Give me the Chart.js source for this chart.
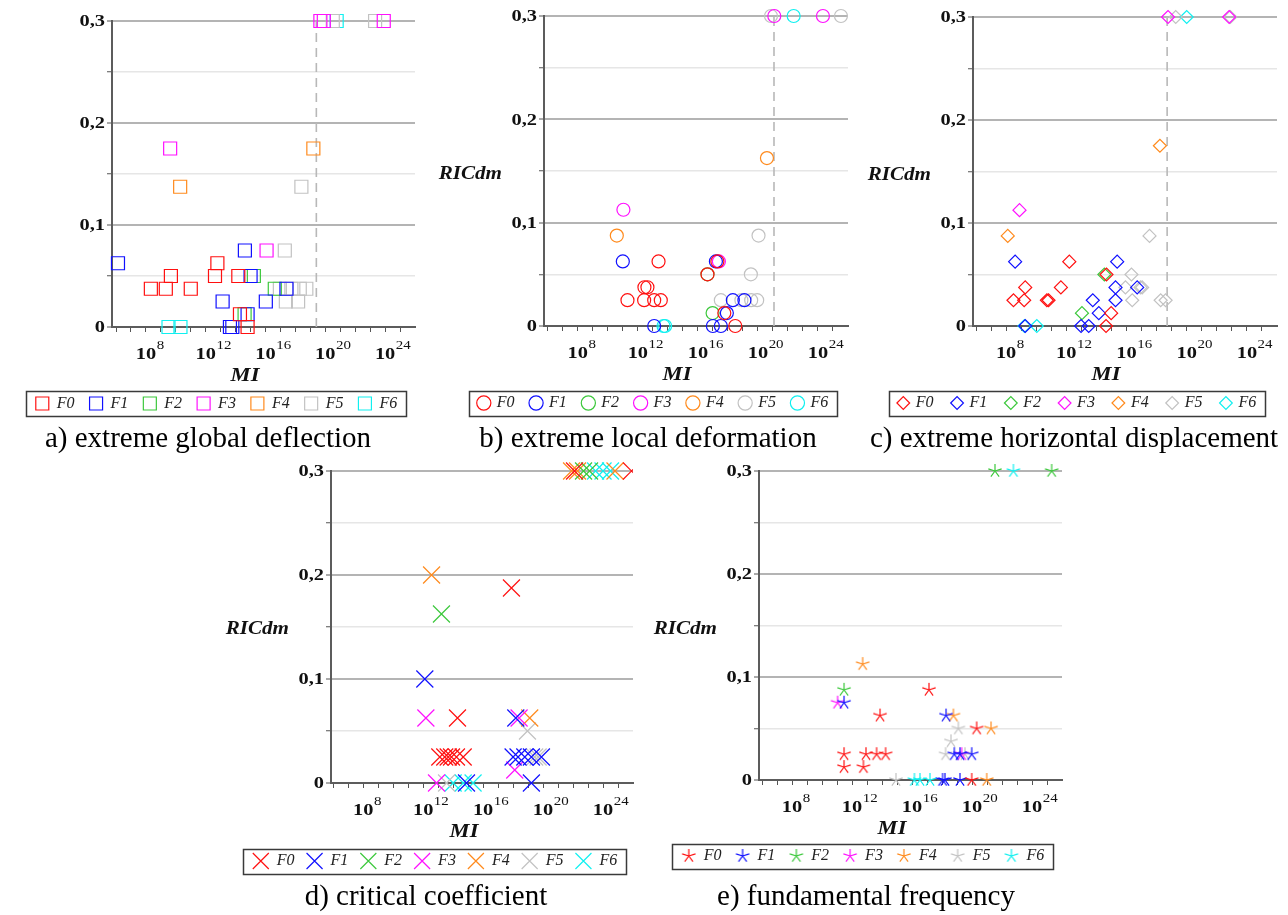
<!DOCTYPE html>
<html>
<head>
<meta charset="utf-8">
<title>RICdm versus MI</title>
<script src="https://cdn.jsdelivr.net/npm/chart.js@4/dist/chart.umd.min.js"></script>
<style>
  html, body { margin: 0; padding: 0; background: #fff; }
  body { position: relative; width: 1288px; height: 915px; overflow: hidden; }
  canvas { position: absolute; }
  .cap {
    position: absolute; width: 600px; text-align: center; white-space: nowrap;
    font: 29px/29px "Liberation Serif", "Times New Roman", serif; color: #000;
  }
</style>
</head>
<body>
<canvas id="chartA"></canvas>
<canvas id="chartB"></canvas>
<canvas id="chartC"></canvas>
<canvas id="chartD"></canvas>
<canvas id="chartE"></canvas>
<div class="cap" style="left:-92px;top:423px">a) extreme global deflection</div>
<div class="cap" style="left:348px;top:423px">b) extreme local deformation</div>
<div class="cap" style="left:774px;top:423px">c) extreme horizontal displacement</div>
<div class="cap" style="left:126px;top:881px">d) critical coefficient</div>
<div class="cap" style="left:566px;top:881px">e) fundamental frequency</div>

<script>
// Series names and tick labels
const SERIES = ['F0', 'F1', 'F2', 'F3', 'F4', 'F5', 'F6'];
const X_DECADES = [6, 7, 8, 9, 10, 11, 12, 13, 14, 15, 16, 17, 18, 19, 20, 21, 22, 23, 24, 25];
const X_LABEL_EXPS = [8, 12, 16, 20, 24];
const Y_GRID = [0, 0.05, 0.1, 0.15, 0.2, 0.25, 0.3];
const Y_TICK_VALUES = [0, 0.1, 0.2, 0.3];
const Y_TICK_TEXT = ['0', '0,1', '0,2', '0,3'];

// Points are [log10(MI), RICdm]

// a) extreme global deflection
const deflF0 = [[8.33,0.0375],[9.33,0.0375],[11.0,0.0375],[9.67,0.05],[12.62,0.05],[14.18,0.05],[12.78,0.0625],[14.29,0.0125],[14.8,0]];
const deflF1 = [[6.13,0.0625],[14.62,0.075],[15.0,0.05],[17.4,0.0375],[13.13,0.025],[16.02,0.025],[14.8,0.0125],[13.62,0],[13.78,0]];
const deflF2 = [[15.22,0.05],[16.62,0.0375],[14.6,0.0125]];
const deflF3 = [[9.62,0.175],[16.07,0.075],[19.67,0.3],[19.9,0.3],[23.91,0.3]];
const deflF4 = [[10.29,0.1375],[19.2,0.175]];
const deflF5 = [[18.4,0.1375],[17.29,0.075],[16.96,0.0375],[17.73,0.0375],[18.29,0.0375],[18.73,0.0375],[17.36,0.025],[18.18,0.025],[20.5,0.3],[23.33,0.3]];
const deflF6 = [[9.51,0],[10.31,0],[20.76,0.3]];
const deflLimit = 19.4;

// b) extreme local deformation
const locF0 = [[13.38,0.0625],[17.3,0.0625],[16.64,0.05],[12.44,0.0375],[12.64,0.0375],[11.31,0.025],[12.42,0.025],[13.09,0.025],[13.53,0.025],[17.76,0.0125],[18.49,0]];
const locF1 = [[11.0,0.0625],[17.2,0.0625],[18.33,0.025],[19.1,0.025],[17.93,0.0125],[13.09,0],[17.0,0],[17.53,0]];
const locF2 = [[16.64,0.05],[16.98,0.0125]];
const locF3 = [[11.04,0.1125],[17.4,0.0625],[21.09,0.3],[24.33,0.3]];
const locF4 = [[10.6,0.0875],[20.6,0.1625]];
const locF5 = [[20.04,0.0875],[19.53,0.05],[17.53,0.025],[18.9,0.025],[19.55,0.025],[19.95,0.025],[20.87,0.3],[25.53,0.3]];
const locF6 = [[13.71,0],[13.82,0],[22.38,0.3]];
const locLimit = 21.07;

// c) extreme horizontal displacement
const horF0 = [[12.2,0.0625],[14.67,0.05],[9.27,0.0375],[11.64,0.0375],[8.49,0.025],[9.2,0.025],[10.71,0.025],[10.82,0.025],[14.98,0.0125],[14.64,0]];
const horF1 = [[8.6,0.0625],[15.38,0.0625],[15.27,0.0375],[16.71,0.0375],[13.76,0.025],[15.27,0.025],[14.16,0.0125],[9.27,0],[12.98,0],[13.49,0]];
const horF2 = [[14.53,0.05],[13.04,0.0125]];
const horF3 = [[8.89,0.1125],[18.76,0.3],[22.82,0.3]];
const horF4 = [[8.11,0.0875],[18.22,0.175]];
const horF5 = [[17.53,0.0875],[16.33,0.05],[15.93,0.0375],[16.93,0.0375],[17.04,0.0375],[16.38,0.025],[18.27,0.025],[18.6,0.025],[19.27,0.3],[22.9,0.3]];
const horF6 = [[9.22,0],[10.04,0],[20.0,0.3]];
const horLimit = 18.7;

// d) critical coefficient
const critF0 = [[17.89,0.1875],[14.29,0.0625],[13.11,0.025],[13.44,0.025],[13.67,0.025],[13.89,0.025],[14.22,0.025],[14.67,0.025],[22.1,0.3],[25.9,0.3]];
const critF1 = [[12.11,0.1],[18.18,0.0625],[18.0,0.025],[18.33,0.025],[18.78,0.025],[19.22,0.025],[19.89,0.025],[14.89,0],[19.22,0]];
const critF2 = [[13.22,0.1625],[22.7,0.3],[23.1,0.3]];
const critF3 = [[12.18,0.0625],[18.4,0.0625],[18.11,0.0125],[12.89,0]];
const critF4 = [[12.56,0.2],[19.11,0.0625],[21.9,0.3],[22.3,0.3],[24.8,0.3]];
const critF5 = [[18.96,0.05],[19.44,0.025],[19.67,0.025],[13.56,0]];
const critF6 = [[14.0,0],[14.67,0],[15.33,0],[23.5,0.3],[24.0,0.3],[24.5,0.3]];

// e) fundamental frequency
const freqF0 = [[17.13,0.0875],[13.87,0.0625],[20.31,0.05],[11.47,0.025],[12.93,0.025],[13.64,0.025],[14.24,0.025],[11.47,0.0125],[12.76,0.0125],[19.98,0]];
const freqF1 = [[11.47,0.075],[18.27,0.0625],[18.82,0.025],[19.2,0.025],[19.98,0.025],[18.04,0],[18.2,0],[19.2,0]];
const freqF2 = [[11.47,0.0875],[21.53,0.3],[25.31,0.3]];
const freqF3 = [[11.04,0.075],[19.31,0.025]];
const freqF4 = [[12.71,0.1125],[18.76,0.0625],[21.27,0.05],[20.98,0]];
const freqF5 = [[19.09,0.05],[18.6,0.0375],[18.24,0.025],[19.53,0.025],[14.93,0]];
const freqF6 = [[16.16,0],[16.53,0],[17.2,0],[22.76,0.3]];

// Marker colours, one per series
const COLORS = ['#ff1010', '#1010ff', '#3cc83c', '#ff10ff', '#ff8a1c', '#c2c2c2', '#10f0f0'];

// Five-armed asterisk marker drawn onto a small canvas
function asteriskMarker(color) {
  const c = document.createElement('canvas');
  c.width = 16; c.height = 16;
  const g = c.getContext('2d');
  g.strokeStyle = color; g.lineWidth = 1.2;
  g.beginPath();
  for (let k = 0; k < 5; k++) {
    const a = -Math.PI / 2 + k * 2 * Math.PI / 5;
    g.moveTo(8, 8);
    g.lineTo(8 + 7 * Math.cos(a), 8 + 7 * Math.sin(a));
  }
  g.stroke();
  return c;
}

// Draw text with a horizontal stretch
function stretchedText(ctx, text, x, y, font, align, baseline, sx) {
  ctx.save();
  ctx.font = font;
  ctx.textAlign = align;
  ctx.textBaseline = baseline;
  ctx.fillStyle = '#111';
  ctx.translate(x, y);
  ctx.scale(sx, 1);
  ctx.fillText(text, 0, 0);
  ctx.restore();
}

const SERIF = '"Liberation Serif", "Times New Roman", serif';

function axisTextPlugin(showYTitle) {
  return {
    id: 'axisText',
    afterDraw(chart) {
      const ctx = chart.ctx;
      const area = chart.chartArea;
      const xs = chart.scales.x, ys = chart.scales.y;
      // y tick labels
      Y_TICK_VALUES.forEach((v, i) => {
        stretchedText(ctx, Y_TICK_TEXT[i], area.left - 7, ys.getPixelForValue(v) + 1,
          'bold 17px ' + SERIF, 'right', 'middle', 1.2);
      });
      // x tick labels: 10 with a raised exponent
      X_LABEL_EXPS.forEach(e => {
        const x = xs.getPixelForValue(Math.pow(10, e));
        ctx.save();
        ctx.font = 'bold 17px ' + SERIF;
        const w = ctx.measureText('10').width * 1.2;
        ctx.restore();
        stretchedText(ctx, '10', x, area.bottom + 31.5, 'bold 17px ' + SERIF, 'center', 'alphabetic', 1.2);
        stretchedText(ctx, String(e), x + w / 2 + 0.5, area.bottom + 22, '13px ' + SERIF, 'left', 'alphabetic', 1.15);
      });
      // axis titles
      stretchedText(ctx, 'MI', area.left + 133, area.bottom + 54, 'bold italic 18px ' + SERIF, 'center', 'alphabetic', 1.25);
      if (showYTitle) {
        stretchedText(ctx, 'RICdm', area.left - 42, area.top + 163, 'bold italic 18px ' + SERIF, 'right', 'alphabetic', 1.17);
      }
    }
  };
}

const legendFramePlugin = {
  id: 'legendFrame',
  afterDraw(chart) {
    const hb = chart.legend && chart.legend.legendHitBoxes;
    if (!hb || !hb.length) return;
    const first = hb[0], last = hb[hb.length - 1];
    const x1 = first.left - 10;
    const x2 = last.left + last.width + 9;
    const cy = first.top + first.height / 2;
    const ctx = chart.ctx;
    ctx.save();
    ctx.strokeStyle = '#3a3a3a';
    ctx.lineWidth = 1.5;
    ctx.strokeRect(Math.round(x1) + 0.5, Math.round(cy - 12.5) + 0.5, Math.round(x2 - x1), 25);
    ctx.restore();
  }
};

function isMajor(v) {
  return Math.abs(v * 10 - Math.round(v * 10)) < 1e-9;
}

function buildPanel(id, g) {
  const cv = document.getElementById(id);
  cv.width = g.w; cv.height = g.h;
  cv.style.left = g.x0 + 'px'; cv.style.top = g.y0 + 'px';
  cv.style.width = g.w + 'px'; cv.style.height = g.h + 'px';

  const padL = 2 * g.legendX - g.right - g.x0;
  const padR = g.x0 + g.w - g.right;
  const padT = g.top - g.y0;
  const yWidth = g.left - (g.x0 + padL);
  const xHeight = g.legendY - 8 - g.pad - g.bottom;
  const legendH = 16 + g.pad + 10;
  const padB = g.y0 + g.h - (g.bottom + xHeight + legendH);

  const datasets = g.series.map((pts, i) => ({
    label: SERIES[i],
    data: pts.map(p => ({ x: Math.pow(10, p[0]), y: p[1] })),
    pointStyle: g.marker === 'asterisk' ? asteriskMarker(COLORS[i]) : g.marker,
    pointRadius: g.radius,
    pointHoverRadius: g.radius,
    borderColor: COLORS[i],
    backgroundColor: 'rgba(0,0,0,0)',
    borderWidth: 1.2,
    showLine: false,
    clip: { left: false, top: false, right: 0, bottom: false }
  }));
  if (g.limit !== undefined) {
    const xl = Math.pow(10, g.limit);
    datasets.push({
      label: 'limit',
      data: [{ x: xl, y: 0 }, { x: xl, y: 0.3 }],
      showLine: true,
      pointRadius: 0,
      borderColor: '#b8b8b8',
      borderWidth: 1.6,
      borderDash: [9, 6],
      backgroundColor: 'rgba(0,0,0,0)'
    });
  }

  new Chart(cv, {
    type: 'scatter',
    data: { datasets },
    options: {
      responsive: false,
      animation: false,
      events: [],
      layout: { padding: { left: padL, right: padR, top: padT, bottom: padB }, autoPadding: false },
      scales: {
        x: {
          type: 'logarithmic',
          min: Math.pow(10, g.xMinExp),
          max: 1e26,
          afterBuildTicks: s => { s.ticks = X_DECADES.map(e => ({ value: Math.pow(10, e) })); },
          afterFit: s => { s.height = xHeight; },
          ticks: { display: false },
          grid: { display: true, drawOnChartArea: false, drawTicks: true, tickLength: 5, tickColor: '#555', tickWidth: 1 },
          border: { display: true, color: '#5c5c5c', width: 2 }
        },
        y: {
          type: 'linear',
          min: 0,
          max: 0.3,
          afterBuildTicks: s => { s.ticks = Y_GRID.map(v => ({ value: v })); },
          afterFit: s => { s.width = yWidth; },
          ticks: { display: false },
          grid: {
            color: c => (c.tick && isMajor(c.tick.value)) ? '#b4b4b4' : '#e6e6e6',
            lineWidth: c => (c.tick && isMajor(c.tick.value)) ? 2 : 1.5,
            drawTicks: true, tickLength: 5, tickColor: '#555', tickWidth: 1
          },
          border: { display: true, color: '#5c5c5c', width: 2 }
        }
      },
      plugins: {
        legend: {
          display: true,
          position: 'bottom',
          labels: {
            usePointStyle: true,
            boxWidth: g.box,
            boxHeight: g.box,
            padding: g.pad,
            color: '#222',
            font: { family: SERIF, style: 'italic', size: 16 },
            filter: item => item.datasetIndex < SERIES.length
          }
        },
        tooltip: { enabled: false },
        title: { display: false }
      }
    },
    plugins: [axisTextPlugin(g.yTitle), legendFramePlugin]
  });
}

buildPanel('chartA', {
  x0: 0, y0: 0, w: 430, h: 430,
  left: 112, top: 21, right: 415, bottom: 327, legendX: 216.5, legendY: 403.5,
  xMinExp: 5.73, marker: 'rect', radius: 9.2, box: 13, pad: 15, yTitle: false,
  series: [deflF0, deflF1, deflF2, deflF3, deflF4, deflF5, deflF6], limit: deflLimit
});
buildPanel('chartB', {
  x0: 430, y0: 0, w: 420, h: 430,
  left: 544, top: 16, right: 848, bottom: 326, legendX: 653.5, legendY: 403,
  xMinExp: 5.75, marker: 'circle', radius: 6.5, box: 10, pad: 16.5, yTitle: true,
  series: [locF0, locF1, locF2, locF3, locF4, locF5, locF6], limit: locLimit
});
buildPanel('chartC', {
  x0: 850, y0: 0, w: 438, h: 430,
  left: 973, top: 17, right: 1277, bottom: 326, legendX: 1077.5, legendY: 403,
  xMinExp: 5.8, marker: 'rectRot', radius: 6.5, box: 9, pad: 19, yTitle: true,
  series: [horF0, horF1, horF2, horF3, horF4, horF5, horF6], limit: horLimit
});
buildPanel('chartD', {
  x0: 215, y0: 455, w: 425, h: 430,
  left: 331, top: 471, right: 633, bottom: 783, legendX: 435, legendY: 861,
  xMinExp: 5.85, marker: 'crossRot', radius: 12, box: 16, pad: 12, yTitle: true,
  series: [critF0, critF1, critF2, critF3, critF4, critF5, critF6]
});
buildPanel('chartE', {
  x0: 645, y0: 455, w: 430, h: 430,
  left: 759, top: 471, right: 1062, bottom: 780, legendX: 863, legendY: 856,
  xMinExp: 5.8, marker: 'asterisk', radius: 7, box: 14, pad: 14, yTitle: true,
  series: [freqF0, freqF1, freqF2, freqF3, freqF4, freqF5, freqF6]
});
</script>
</body>
</html>
